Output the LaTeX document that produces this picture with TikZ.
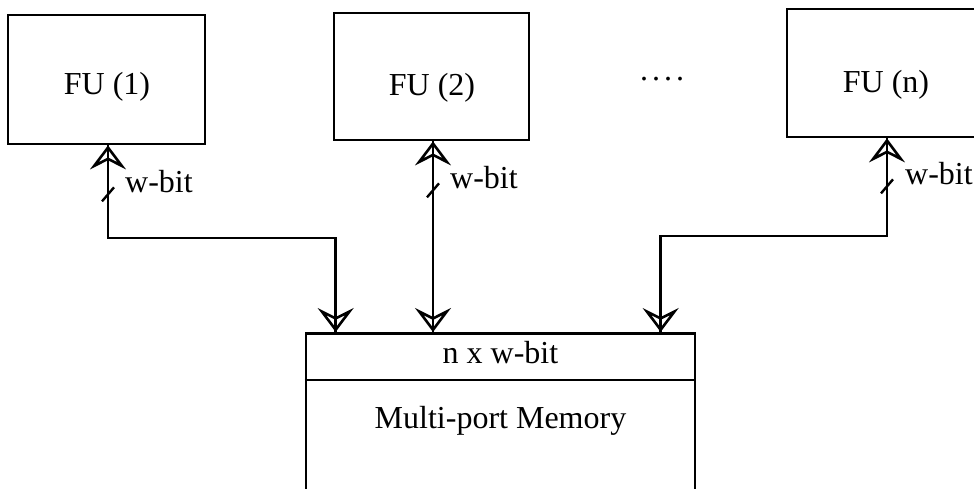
\documentclass[tikz,border=0pt]{standalone}
\usepackage{fontspec}
\setmainfont{Liberation Serif}
\usetikzlibrary{arrows.meta,calc}
\begin{document}
\begin{tikzpicture}[x=1pt,y=-1pt,
  every node/.style={font=\fontsize{32}{37}\selectfont, inner sep=0pt},
  box/.style={draw, line width=2.7pt},
  bus/.style={line width=2.7pt},
  hd/.style={line width=2.6pt},
  up/.style={hd, {Stealth[open,length=24pt,width=36pt,inset=9pt]}-},
  down/.style={hd, -{Stealth[open,length=24pt,width=36pt,inset=9pt]}},
  tick/.style={line width=2.4pt},
  lbl/.style={anchor=base west}]
\useasboundingbox (0,0) rectangle (974,488);
% functional units
\node[box, minimum width=197pt, minimum height=129pt] (fu1) at (106.5,79.5) {};
\node[box, minimum width=195pt, minimum height=127pt] (fu2) at (431.5,76.5) {};
\node[box, minimum width=198pt, minimum height=128pt] (fun) at (886,73) {};
\node[anchor=base] (t1) at (107,94) {FU (1)};
\node[anchor=base] (t2) at (432,95) {FU (2)};
\node[anchor=base] (tn) at (886,92) {FU (n)};
\node[anchor=base] (dots) at (662,80) {.\hspace{4pt}.\hspace{4pt}.\hspace{4pt}.};
% memory
\node[box, minimum width=389pt, minimum height=170pt, anchor=north] (mem) at (500.5,332) {};
\draw[bus] ($(mem.north west)+(0,48)$) -- ($(mem.north east)+(0,48)$);
\node[anchor=base] (mw) at (500.5,363) {n x w-bit};
\node[anchor=base] (mn) at (500.5,428) {Multi-port Memory};
% port coordinates
\coordinate (p1) at ($(fu1.south)+(1.5,0)$);
\coordinate (p2) at ($(fu2.south)+(1.5,0)$);
\coordinate (pn) at ($(fun.south)+(1,0)$);
\coordinate (m1) at ($(mem.north west)+(31,0)$);
\coordinate (m2) at (mem.north -| p2);
\coordinate (mn3) at ($(mem.north west)+(356,0)$);
\coordinate (c1) at (p1 |- 0,238);
\coordinate (cn) at (pn |- 0,236);
% buses (shafts)
\draw[bus] (p1) -- (c1) -| (m1);
\draw[bus] (p2) -- (m2);
\draw[bus] (pn) -- (cn) -| (mn3);
% arrow heads
\draw[up] (p1) -- ($(p1)+(0,30)$);
\draw[up] (p2) -- ($(p2)+(0,30)$);
\draw[up] (pn) -- ($(pn)+(0,30)$);
\draw[down] ($(m1)+(0,-30)$) -- (m1);
\draw[down] ($(m2)+(0,-30)$) -- (m2);
\draw[down] ($(mn3)+(0,-30)$) -- (mn3);
% width ticks
\draw[tick] ($(p1)+(-6,56)$) -- ++(12,-14);
\draw[tick] ($(p2)+(-6,56)$) -- ++(12,-14);
\draw[tick] ($(pn)+(-6,55)$) -- ++(12,-14);
% labels
\node[lbl] (w1) at ($(p1)+(17,47)$) {w-bit};
\node[lbl] (w2) at ($(p2)+(17,47)$) {w-bit};
\node[lbl] (wn) at ($(pn)+(18,46)$) {w-bit};
\end{tikzpicture}
\end{document}
